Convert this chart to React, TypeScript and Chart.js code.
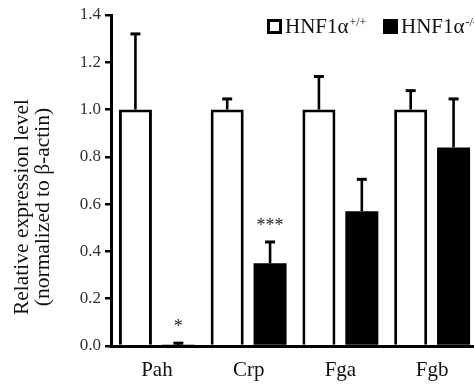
import React, { useEffect, useRef } from "react";
import { Chart, registerables } from "chart.js";

Chart.register(...registerables);

const categories = ["Pah", "Crp", "Fga", "Fgb"];
const wtValues = [1.0, 1.0, 1.0, 1.0];
const wtErrors = [0.32, 0.045, 0.14, 0.08];
const koValues = [0.004, 0.35, 0.57, 0.84];
const koErrors = [0.008, 0.09, 0.135, 0.205];
const koSignificance = ["*", "***", "", ""];
const yTicks = [0, 0.2, 0.4, 0.6, 0.8, 1.0, 1.2, 1.4];
const yTitleLines = ["Relative expression level", "(normalized to \u03b2-actin)"];
const legendItems = [
  { name: "HNF1\u03b1", sup: "+/+", fill: "#ffffff" },
  { name: "HNF1\u03b1", sup: "-/-", fill: "#000000" },
];

const FONT = '"Liberation Serif", "Times New Roman", serif';
const errorSets = [wtErrors, koErrors];

const errorBarPlugin = {
  id: "errorBars",
  afterDatasetsDraw(chart: any) {
    const ctx = chart.ctx;
    const ys = chart.scales.y;
    ctx.save();
    ctx.strokeStyle = "#000";
    chart.data.datasets.forEach((ds: any, di: number) => {
      const meta = chart.getDatasetMeta(di);
      meta.data.forEach((bar: any, i: number) => {
        const v = ds.data[i];
        const e = errorSets[di][i];
        const x = bar.x;
        const y0 = ys.getPixelForValue(v);
        const y1 = ys.getPixelForValue(v + e);
        ctx.lineWidth = 2.6;
        ctx.beginPath();
        ctx.moveTo(x, y0);
        ctx.lineTo(x, y1);
        ctx.stroke();
        ctx.lineWidth = 3;
        ctx.beginPath();
        ctx.moveTo(x - 5, y1);
        ctx.lineTo(x + 5, y1);
        ctx.stroke();
        if (di === 1 && koSignificance[i]) {
          ctx.fillStyle = "#222";
          ctx.font = `18px ${FONT}`;
          ctx.textAlign = "center";
          ctx.textBaseline = "alphabetic";
          ctx.fillText(koSignificance[i], x, y1 - 19 + 8);
        }
      });
    });
    ctx.restore();
  },
  afterDraw(chart: any) {
    const ctx = chart.ctx;
    ctx.save();
    // y-axis title
    const cy = 207;
    ctx.fillStyle = "#111";
    ctx.font = `21.5px ${FONT}`;
    ctx.textAlign = "center";
    ctx.textBaseline = "alphabetic";
    const baseXs = [28, 49];
    yTitleLines.forEach((line, k) => {
      ctx.save();
      ctx.translate(baseXs[k], cy);
      ctx.rotate(-Math.PI / 2);
      ctx.fillText(line, 0, 0);
      ctx.restore();
    });
    // legend
    const boxXs = [267, 383];
    legendItems.forEach((it, k) => {
      const bx = boxXs[k];
      if (it.fill === "#ffffff") {
        ctx.fillStyle = "#fff";
        ctx.fillRect(bx, 19, 15, 15);
        ctx.strokeStyle = "#000";
        ctx.lineWidth = 3;
        ctx.strokeRect(bx + 1.5, 20.5, 12, 12);
      } else {
        ctx.fillStyle = "#000";
        ctx.fillRect(bx, 19, 15, 15);
      }
      ctx.fillStyle = "#111";
      ctx.textAlign = "left";
      ctx.font = `21px ${FONT}`;
      const tx = bx + 18;
      ctx.fillText(it.name, tx, 33);
      const w = ctx.measureText(it.name).width;
      ctx.font = `12px ${FONT}`;
      ctx.fillText(it.sup, tx + w + 1, 26);
    });
    ctx.restore();
  },
};

export default function App() {
  const ref = useRef<HTMLCanvasElement>(null);
  useEffect(() => {
    if (!ref.current) return;
    const chart = new Chart(ref.current, {
      type: "bar",
      data: {
        labels: categories,
        datasets: [
          {
            label: "HNF1\u03b1+/+",
            data: wtValues,
            backgroundColor: "#ffffff",
            borderColor: "#000000",
            borderWidth: 3,
            barPercentage: 0.77,
            categoryPercentage: 0.935,
          },
          {
            label: "HNF1\u03b1-/-",
            data: koValues,
            backgroundColor: "#000000",
            borderColor: "#000000",
            borderWidth: 0,
            barPercentage: 0.77,
            categoryPercentage: 0.935,
          },
        ],
      },
      options: {
        responsive: false,
        animation: false,
        layout: { padding: { top: 15, right: 4, left: 0, bottom: 0 } },
        plugins: { legend: { display: false }, tooltip: { enabled: false }, title: { display: false } },
        scales: {
          x: {
            grid: { display: false, drawTicks: false },
            border: { display: true, color: "#000", width: 3 },
            ticks: { color: "#111", font: { family: FONT, size: 21 }, padding: 12 },
            afterFit: (s: any) => {
              s.height = 38;
            },
          },
          y: {
            min: 0,
            max: 1.4,
            afterBuildTicks: (s: any) => {
              s.ticks = yTicks.map((v) => ({ value: v }));
            },
            grid: {
              display: true,
              drawOnChartArea: false,
              drawTicks: true,
              tickLength: 6,
              color: "#000",
              lineWidth: 2.5,
            },
            border: { display: true, color: "#000", width: 3 },
            ticks: {
              color: "#333",
              font: { family: FONT, size: 17 },
              padding: 4,
              callback: (v: any) => Number(v).toFixed(1),
            },
            afterFit: (s: any) => {
              s.width = 111;
            },
          },
        },
      },
      plugins: [errorBarPlugin],
    });
    return () => chart.destroy();
  }, []);
  return (
    <div style={{ position: "fixed", left: 0, top: 0, width: 482, height: 384, background: "#fff" }}>
      <canvas ref={ref} width={482} height={384} style={{ width: 482, height: 384 }} />
    </div>
  );
}
